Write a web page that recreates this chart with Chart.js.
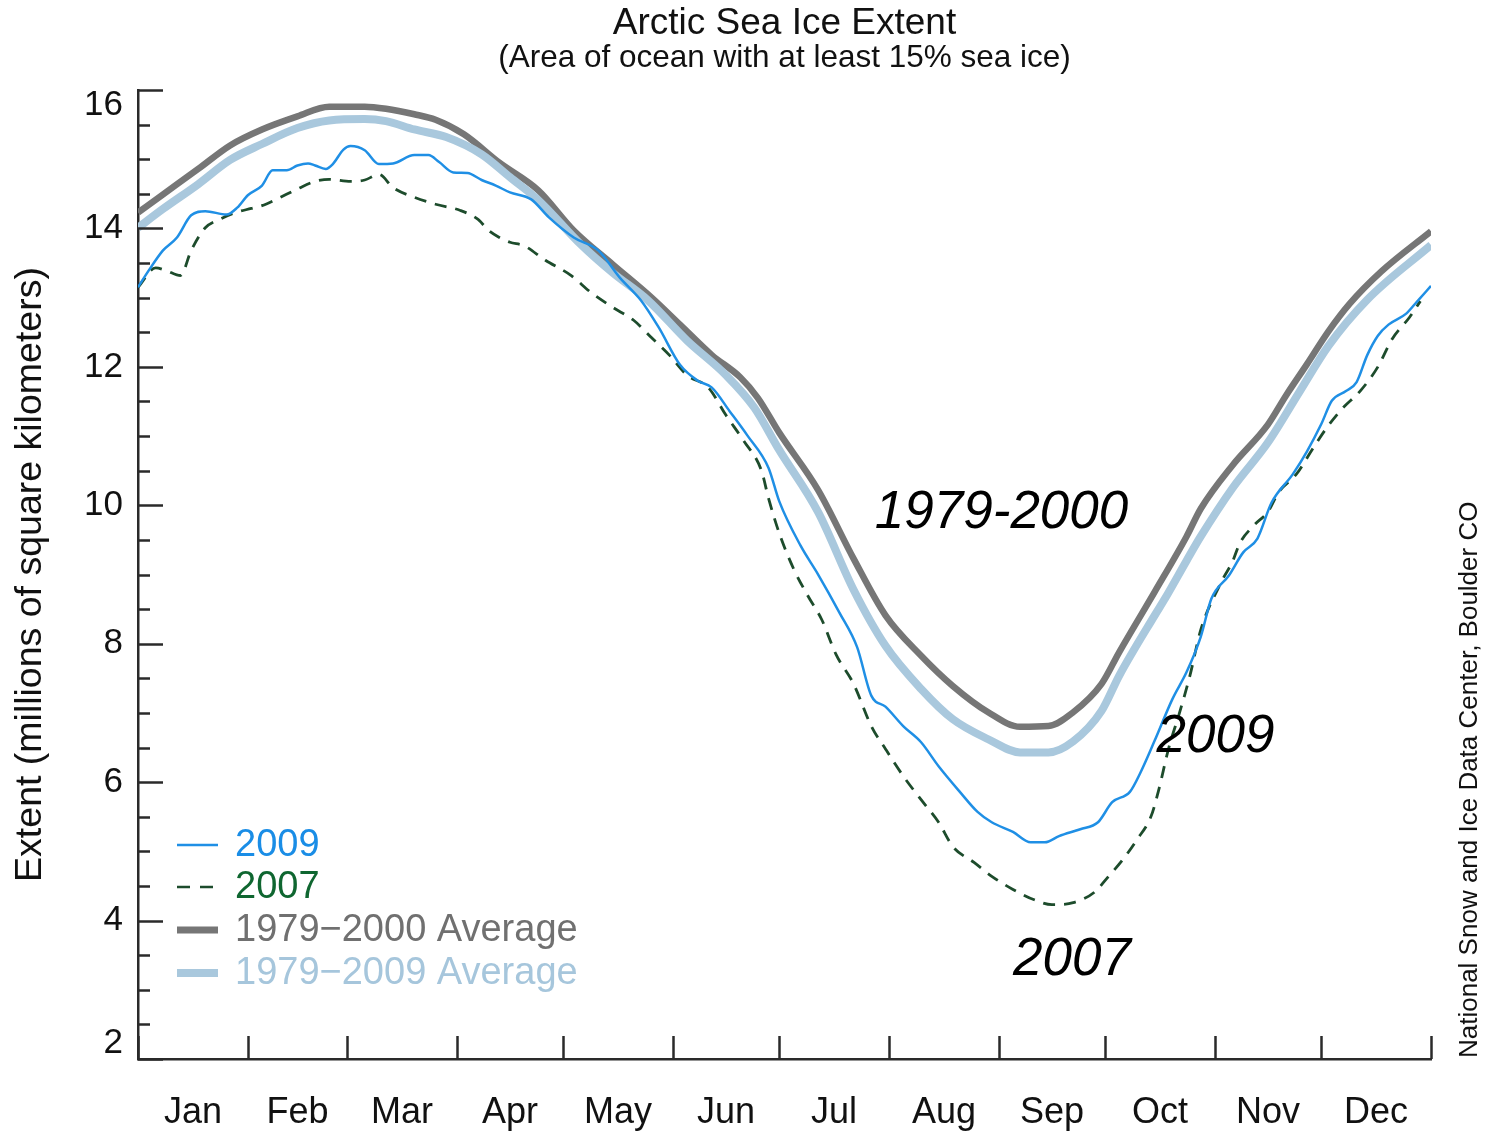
<!DOCTYPE html>
<html>
<head>
<meta charset="utf-8">
<script src="https://cdn.jsdelivr.net/npm/chart.js@4.4.1/dist/chart.umd.min.js"></script>
<style>
  html, body { margin: 0; padding: 0; background: #ffffff; }
  #c { display: block; }
</style>
</head>
<body>
<canvas id="c" width="1486" height="1132"></canvas>
<script>
// ---------------- DATA ----------------
const monthLabels = ['Jan','Feb','Mar','Apr','May','Jun','Jul','Aug','Sep','Oct','Nov','Dec'];
const monthStarts = [0,31,59,90,120,151,181,212,243,273,304,334,365];
const monthMids = [15.5,45,74.5,105,135.5,166,196.5,227.5,258,288.5,319,349.5];
const yTickValues = [2,4,6,8,10,12,14,16];
const yTickLabels = ['2','4','6','8','10','12','14','16'];

const days2009 = [0,3,7,11,15,19,25,28,31,35,38,42,45,48,50,53,55,58,60,64,68,72,78,82,85,89,93,97,101,105,111,116,123,130,136,142,147,153,158,162,167,172,178,181,187,192,198,203,207,211,216,221,226,232,237,241,247,252,256,260,266,271,275,280,283,287,292,296,300,303,308,312,316,320,326,330,334,337,341,344,347,350,353,358,361,365];
const ext2009 = [13.15,13.39,13.68,13.87,14.19,14.25,14.20,14.30,14.48,14.62,14.84,14.84,14.91,14.94,14.91,14.86,14.93,15.14,15.19,15.13,14.93,14.94,15.06,15.06,14.96,14.81,14.80,14.70,14.62,14.52,14.42,14.16,13.87,13.68,13.29,12.96,12.57,12.03,11.80,11.70,11.36,11.01,10.54,10.06,9.42,9.00,8.45,7.95,7.25,7.09,6.81,6.58,6.23,5.86,5.57,5.42,5.28,5.13,5.13,5.22,5.32,5.42,5.71,5.86,6.14,6.60,7.20,7.59,8.10,8.65,8.99,9.32,9.52,10.04,10.45,10.78,11.17,11.51,11.65,11.78,12.17,12.45,12.61,12.77,12.94,13.17];

const days2007 = [0,5,8,12,15,19,23,27,32,35,39,45,50,54,60,64,68,72,78,84,91,96,99,102,105,109,115,122,128,134,140,145,150,155,161,166,171,176,178,181,185,189,193,197,202,207,211,216,221,226,230,236,241,247,253,258,264,270,274,278,282,286,288,291,294,297,300,306,309,311,315,319,322,327,332,336,340,345,350,354,359,362];
const ext2007 = [13.15,13.43,13.39,13.32,13.68,14.01,14.13,14.22,14.29,14.33,14.42,14.57,14.68,14.71,14.68,14.70,14.78,14.59,14.45,14.35,14.26,14.13,13.97,13.87,13.80,13.75,13.54,13.33,13.07,12.86,12.67,12.42,12.17,11.88,11.70,11.30,10.93,10.50,10.10,9.60,9.09,8.70,8.35,7.85,7.42,6.81,6.48,6.09,5.75,5.42,5.07,4.84,4.64,4.45,4.30,4.23,4.26,4.41,4.64,4.88,5.17,5.51,5.86,6.50,7.00,7.55,8.20,8.91,9.19,9.45,9.71,9.91,10.19,10.45,10.85,11.15,11.40,11.65,12.00,12.40,12.72,12.95];

const days7900 = [0,7,17,26,35,45,54,64,70,78,84,92,102,113,123,134,145,153,162,170,175,181,192,202,211,221,230,240,249,257,264,272,277,287,296,300,309,319,324,330,336,342,351,365];
const ext7900 = [14.23,14.49,14.86,15.20,15.43,15.62,15.76,15.76,15.73,15.65,15.57,15.36,14.95,14.55,13.97,13.48,13.00,12.61,12.17,11.85,11.55,11.05,10.22,9.23,8.41,7.83,7.39,7.01,6.80,6.81,7.01,7.42,7.88,8.75,9.55,9.95,10.58,11.17,11.58,12.04,12.51,12.91,13.38,13.96];

const days7909 = [0,7,17,26,35,45,54,64,70,78,87,97,105,113,125,134,144,155,166,174,181,192,202,211,221,230,240,249,257,264,272,277,287,290,296,300,309,319,328,336,347,365];
const ext7909 = [14.01,14.28,14.64,14.99,15.22,15.45,15.56,15.58,15.55,15.43,15.32,15.07,14.74,14.41,13.77,13.36,12.96,12.38,11.88,11.41,10.80,9.90,8.78,7.97,7.35,6.91,6.62,6.43,6.43,6.59,7.03,7.54,8.41,8.66,9.20,9.55,10.25,10.91,11.65,12.30,12.97,13.76];

const seriesNames = ['2009','2007','1979\u22122000 Average','1979\u22122009 Average'];
const annotations = [
  {text:'1979-2000', day:208, value:9.89},
  {text:'2009', day:287.5, value:6.65},
  {text:'2007', day:247, value:3.43}
];

// ---------------- STYLE ----------------
const FONT = '"Liberation Sans", Arial, Helvetica, sans-serif';
const C2009 = '#1f8fe5';
const C2009TXT = '#1a8de6';
const C2007 = '#1d4c2c';
const C2007TXT = '#0f6630';
const C7900 = '#767676';
const C7900TXT = '#707070';
const C7909 = '#a9c8dd';
const C7909TXT = '#a6c6dc';
const AXIS = '#2a2a2a';

const pts = (d, v) => d.map((x, i) => ({x: x, y: v[i]}));

const decor = {
  id: 'decor',
  afterDraw(chart) {
    const {ctx, chartArea: a, scales: {x, y}} = chart;
    ctx.save();
    ctx.strokeStyle = AXIS;
    ctx.lineWidth = 2.5;
    ctx.lineCap = 'butt';
    // y ticks (inward), minor every 0.5
    for (let v = 2; v <= 16.001; v += 0.5) {
      const py = Math.round(y.getPixelForValue(v)) + 0.5;
      const len = (Math.abs(v % 2) < 1e-6) ? 25 : 12;
      ctx.beginPath(); ctx.moveTo(a.left, py); ctx.lineTo(a.left + len, py); ctx.stroke();
    }
    // x ticks at month boundaries (inward)
    monthStarts.forEach(d => {
      const px = Math.round(x.getPixelForValue(d)) + 0.5;
      ctx.beginPath(); ctx.moveTo(px, a.bottom); ctx.lineTo(px, a.bottom - 23); ctx.stroke();
    });

    // legend
    const lx0 = a.left + 39, lx1 = a.left + 80, tx = a.left + 97;
    const rows = [
      {y: 845, color: C2009, w: 2.5, dash: [], txt: C2009TXT},
      {y: 887, color: C2007, w: 2.5, dash: [13, 10], txt: C2007TXT},
      {y: 930, color: C7900, w: 7, dash: [], txt: C7900TXT},
      {y: 973, color: C7909, w: 8, dash: [], txt: C7909TXT}
    ];
    ctx.font = '38px ' + FONT;
    ctx.textAlign = 'left';
    ctx.textBaseline = 'middle';
    rows.forEach((r, i) => {
      ctx.strokeStyle = r.color; ctx.lineWidth = r.w; ctx.setLineDash(r.dash);
      ctx.beginPath(); ctx.moveTo(lx0, r.y); ctx.lineTo(lx1, r.y); ctx.stroke();
      ctx.setLineDash([]);
      ctx.fillStyle = r.txt;
      ctx.fillText(seriesNames[i], tx, r.y + 1);
    });

    // in-plot labels
    ctx.fillStyle = '#000';
    ctx.font = 'italic 53px ' + FONT;
    annotations.forEach(an => {
      ctx.fillText(an.text, x.getPixelForValue(an.day), y.getPixelForValue(an.value));
    });

    // credit
    ctx.save();
    ctx.translate(1470, 1058);
    ctx.rotate(-Math.PI / 2);
    ctx.font = '26px ' + FONT;
    ctx.fillStyle = '#111';
    ctx.textAlign = 'left';
    ctx.textBaseline = 'middle';
    ctx.fillText('National Snow and Ice Data Center, Boulder CO', 0, 0);
    ctx.restore();

    ctx.restore();
  }
};

new Chart(document.getElementById('c'), {
  type: 'line',
  data: {
    datasets: [
      {label: seriesNames[0], data: pts(days2009, ext2009), borderColor: C2009, borderWidth: 2.5, pointRadius: 0, cubicInterpolationMode: 'monotone', fill: false},
      {label: seriesNames[1], data: pts(days2007, ext2007), borderColor: C2007, borderWidth: 2.8, borderDash: [12, 9], pointRadius: 0, cubicInterpolationMode: 'monotone', fill: false},
      {label: seriesNames[3], data: pts(days7909, ext7909), borderColor: C7909, borderWidth: 8, pointRadius: 0, cubicInterpolationMode: 'monotone', fill: false},
      {label: seriesNames[2], data: pts(days7900, ext7900), borderColor: C7900, borderWidth: 6.5, pointRadius: 0, cubicInterpolationMode: 'monotone', fill: false}
    ]
  },
  options: {
    responsive: false,
    animation: false,
    events: [],
    layout: {padding: {left: 0, right: 55, top: 0, bottom: 0}},
    plugins: {
      legend: {display: false},
      tooltip: {enabled: false},
      title: {
        display: true, text: 'Arctic Sea Ice Extent', color: '#111', fullSize: false,
        font: {family: FONT, size: 37, weight: 'normal', lineHeight: 1.1},
        padding: {top: 3, bottom: 0}
      },
      subtitle: {
        display: true, text: '(Area of ocean with at least 15% sea ice)', color: '#111', fullSize: false,
        font: {family: FONT, size: 31.5, weight: 'normal', lineHeight: 0.95},
        padding: {top: 0, bottom: 16.4}
      }
    },
    scales: {
      x: {
        type: 'linear', min: 0, max: 365,
        afterBuildTicks: s => { s.ticks = monthMids.map(v => ({value: v})); },
        afterFit: s => { s.height = 73; },
        ticks: {autoSkip: false, maxRotation: 0, minRotation: 0, padding: 32, color: '#111',
          font: {family: FONT, size: 36}, callback: (v, i) => monthLabels[i]},
        grid: {display: false, drawTicks: false},
        border: {display: true, color: AXIS, width: 2.5}
      },
      y: {
        type: 'linear', min: 2, max: 16,
        afterBuildTicks: s => { s.ticks = yTickValues.map(v => ({value: v})); },
        afterFit: s => { s.width = 138; },
        ticks: {autoSkip: false, padding: 15, color: '#111',
          font: {family: FONT, size: 35, lineHeight: 0.88},
          callback: (v, i) => i === yTickLabels.length - 1 ? ['', yTickLabels[i]]
                             : (i === 0 ? [yTickLabels[i], ''] : yTickLabels[i])},
        grid: {display: false, drawTicks: false},
        border: {display: true, color: AXIS, width: 2.5},
        title: {display: true, text: 'Extent (millions of square kilometers)', color: '#111',
          font: {family: FONT, size: 37.5, lineHeight: 1.2}, padding: {top: 8, bottom: 0}}
      }
    }
  },
  plugins: [decor]
});
</script>
</body>
</html>
